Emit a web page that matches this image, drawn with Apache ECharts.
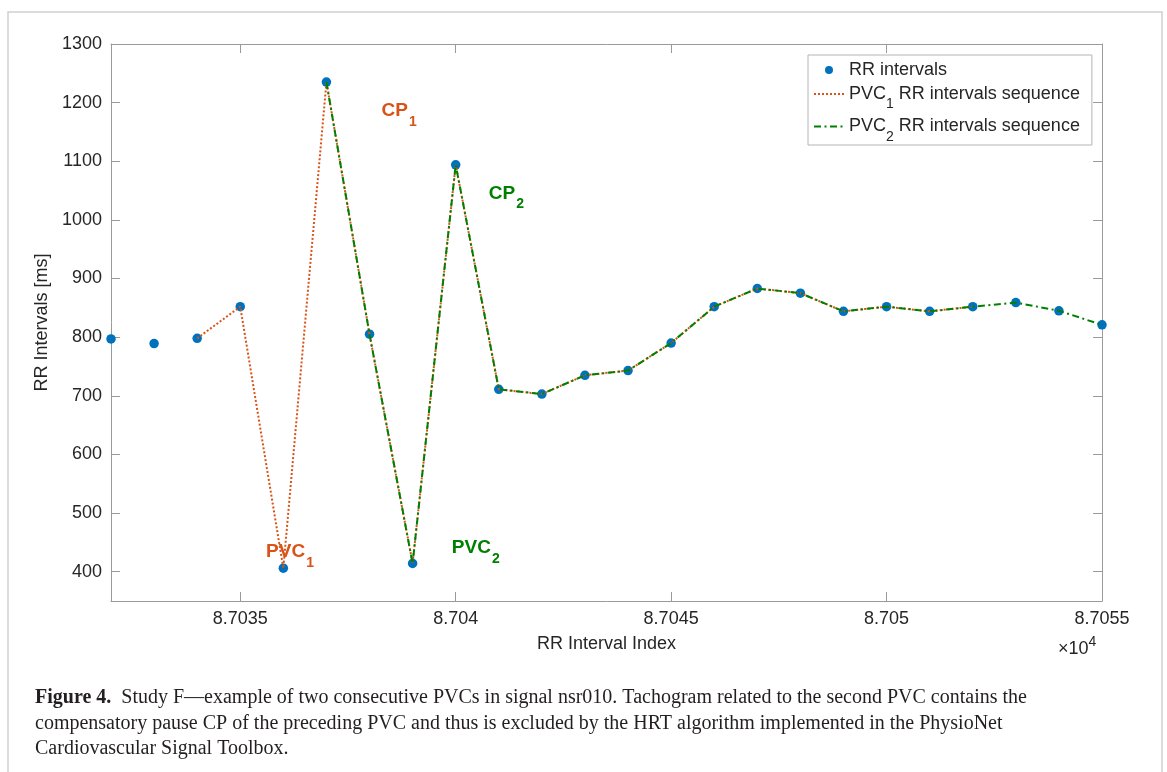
<!DOCTYPE html>
<html><head><meta charset="utf-8">
<script src="https://cdn.jsdelivr.net/npm/echarts@6/dist/echarts.min.js"></script>
<style>html,body{margin:0;padding:0;background:#fff}#c{width:1167px;height:772px}</style>
</head><body><div id="c"></div>
<script>
// ---- data ----
const rrIndex = [87032, 87033, 87034, 87035, 87036, 87037, 87038, 87039, 87040, 87041, 87042, 87043,
                 87044, 87045, 87046, 87047, 87048, 87049, 87050, 87051, 87052, 87053, 87054, 87055];
const rrValues = [797, 789, 798, 852, 406, 1235, 805, 414, 1094, 711, 703, 735,
                  743, 790, 852, 883, 875, 844, 852, 844, 852, 859, 845, 821];
const pvc1Range = [87034, 87052];
const pvc2Range = [87037, 87055];
const xTickValues = [87035, 87040, 87045, 87050, 87055];
const yTickValues = [400, 500, 600, 700, 800, 900, 1000, 1100, 1200, 1300];
const legendNames = ['RR intervals', 'PVC1 RR intervals sequence', 'PVC2 RR intervals sequence'];
const annoMain = ['CP', 'PVC', 'CP', 'PVC'];
const annoSub = ['1', '1', '2', '2'];
const annoX = [87038.28, 87035.6, 87040.77, 87039.91];
const annoY = [1186, 434, 1045, 440];
const annoGroup = [1, 1, 2, 2];
const captionLines = [
  '{b|Figure 4.}  Study F\u2014example of two consecutive PVCs in signal nsr010. Tachogram related to the second PVC contains the',
  'compensatory pause CP of the preceding PVC and thus is excluded by the HRT algorithm implemented in the PhysioNet',
  'Cardiovascular Signal Toolbox.'
];

// ---- styles ----
const SANS = '"Liberation Sans", Arial, Helvetica, sans-serif';
const SERIF = '"Liberation Serif", "Times New Roman", serif';
const BLUE = '#0072BD', ORANGE = '#D95319', GREEN = '#008000';
const AXIS = '#9a9a9a', TXT = '#262626';

const inRange = (r) => rrIndex.map((x, i) => [x, rrValues[i]]).filter(p => p[0] >= r[0] && p[0] <= r[1]);

function annoPoints(group, color) {
  const out = [];
  annoMain.forEach((m, i) => {
    if (annoGroup[i] !== group) return;
    out.push({
      name: '{m|' + m + '}{s|' + annoSub[i] + '}',
      coord: [annoX[i], annoY[i]],
      label: {
        rich: {
          m: {fontSize: 19, fontWeight: 'bold', color: color, fontFamily: SANS},
          s: {fontSize: 14, fontWeight: 'bold', color: color, fontFamily: SANS, padding: [22, 0, 0, 1]}
        }
      }
    });
  });
  return out;
}

function markPointCfg(group, color) {
  return {
    symbol: 'circle', symbolSize: 0, silent: true, animation: false,
    label: {show: true, position: 'inside', align: 'left', verticalAlign: 'middle',
            formatter: p => p.name, color: color},
    data: annoPoints(group, color)
  };
}

const axisCommon = (min, max) => ({
  type: 'value', min: min, max: max,
  splitLine: {show: false},
  axisLine: {show: true, onZero: false, lineStyle: {color: AXIS, width: 1}}
});

const chart = echarts.init(document.getElementById('c'));
chart.setOption({
  animation: false,
  backgroundColor: '#fff',
  title: {
    left: 30, top: 680, padding: 5,
    text: captionLines.join('\n'),
    textStyle: {
      fontFamily: SERIF, fontSize: 20, fontWeight: 'normal', color: '#231f20', lineHeight: 25.5,
      rich: {b: {fontFamily: SERIF, fontSize: 20, fontWeight: 'bold', color: '#231f20', lineHeight: 25.5}}
    }
  },
  grid: {left: 111, top: 44, right: 65, bottom: 171, containLabel: false, outerBoundsMode: 'none'},
  xAxis: [
    Object.assign(axisCommon(87032, 87055), {
      position: 'bottom',
      axisTick: {show: true, inside: true, length: 9, customValues: xTickValues, lineStyle: {color: AXIS}},
      axisLabel: {customValues: xTickValues, margin: 9, fontSize: 18, color: TXT, fontFamily: SANS,
                  formatter: v => String(Number((v / 1e4).toFixed(4)))},
      name: 'RR Interval Index', nameLocation: 'middle', nameGap: 34,
      nameTextStyle: {fontSize: 18, color: TXT, fontFamily: SANS}
    }),
    Object.assign(axisCommon(87032, 87055), {
      position: 'top',
      axisTick: {show: true, inside: true, length: 9, customValues: xTickValues, lineStyle: {color: AXIS}},
      axisLabel: {show: false}
    })
  ],
  yAxis: [
    Object.assign(axisCommon(350, 1300), {
      position: 'left',
      axisTick: {show: true, inside: true, length: 9, customValues: yTickValues, lineStyle: {color: AXIS}},
      axisLabel: {customValues: yTickValues, margin: 9, fontSize: 18, color: TXT, fontFamily: SANS,
                  formatter: v => String(v)},
      name: 'RR Intervals [ms]', nameLocation: 'middle', nameGap: 51,
      nameTextStyle: {fontSize: 18, color: TXT, fontFamily: SANS}
    }),
    Object.assign(axisCommon(350, 1300), {
      position: 'right',
      axisTick: {show: true, inside: true, length: 9, customValues: yTickValues, lineStyle: {color: AXIS}},
      axisLabel: {show: false}
    })
  ],
  legend: {
    orient: 'vertical', left: 808, top: 55, padding: [6, 12, 1, 5],
    itemWidth: 30, itemHeight: 8, itemGap: 6,
    borderColor: '#b4b4b4', borderWidth: 1, backgroundColor: '#fff',
    selectedMode: false,
    textStyle: {fontSize: 18, color: TXT, fontFamily: SANS,
      rich: {s: {fontSize: 14, color: TXT, fontFamily: SANS, padding: [21, 0, 0, 0]}}},
    formatter: n => n.replace(/PVC(\d)/, 'PVC{s|$1}'),
    data: [
      {name: legendNames[0], icon: 'circle', itemStyle: {opacity: 1}},
      {name: legendNames[1], itemStyle: {opacity: 0}},
      {name: legendNames[2], itemStyle: {opacity: 0}}
    ]
  },
  graphic: [
    {type: 'rect', silent: true, shape: {x: 8, y: 12, width: 1154, height: 800},
     style: {fill: 'none', stroke: '#cfcfcf', lineWidth: 1.5}},
    {type: 'text', silent: true, x: 1058, y: 649,
     style: {text: '\u00d710{s|4}', font: '18px ' + SANS, fill: TXT, verticalAlign: 'middle',
             rich: {s: {fontSize: 14, fontFamily: SANS, fill: TXT, padding: [0, 0, 14, 0]}}}}
  ],
  series: [
    {type: 'scatter', name: legendNames[0], symbol: 'circle', symbolSize: 9.5,
     itemStyle: {color: BLUE, opacity: 1}, data: rrIndex.map((x, i) => [x, rrValues[i]])},
    {type: 'line', name: legendNames[1], symbol: 'none', showSymbol: false,
     lineStyle: {color: ORANGE, width: 2, type: [2, 2]}, itemStyle: {color: ORANGE},
     data: inRange(pvc1Range), markPoint: markPointCfg(1, ORANGE)},
    {type: 'line', name: legendNames[2], symbol: 'none', showSymbol: false,
     lineStyle: {color: GREEN, width: 2, type: [7, 3.5, 2, 3.5]}, itemStyle: {color: GREEN},
     data: inRange(pvc2Range), markPoint: markPointCfg(2, GREEN)}
  ]
});
</script>
</body></html>
